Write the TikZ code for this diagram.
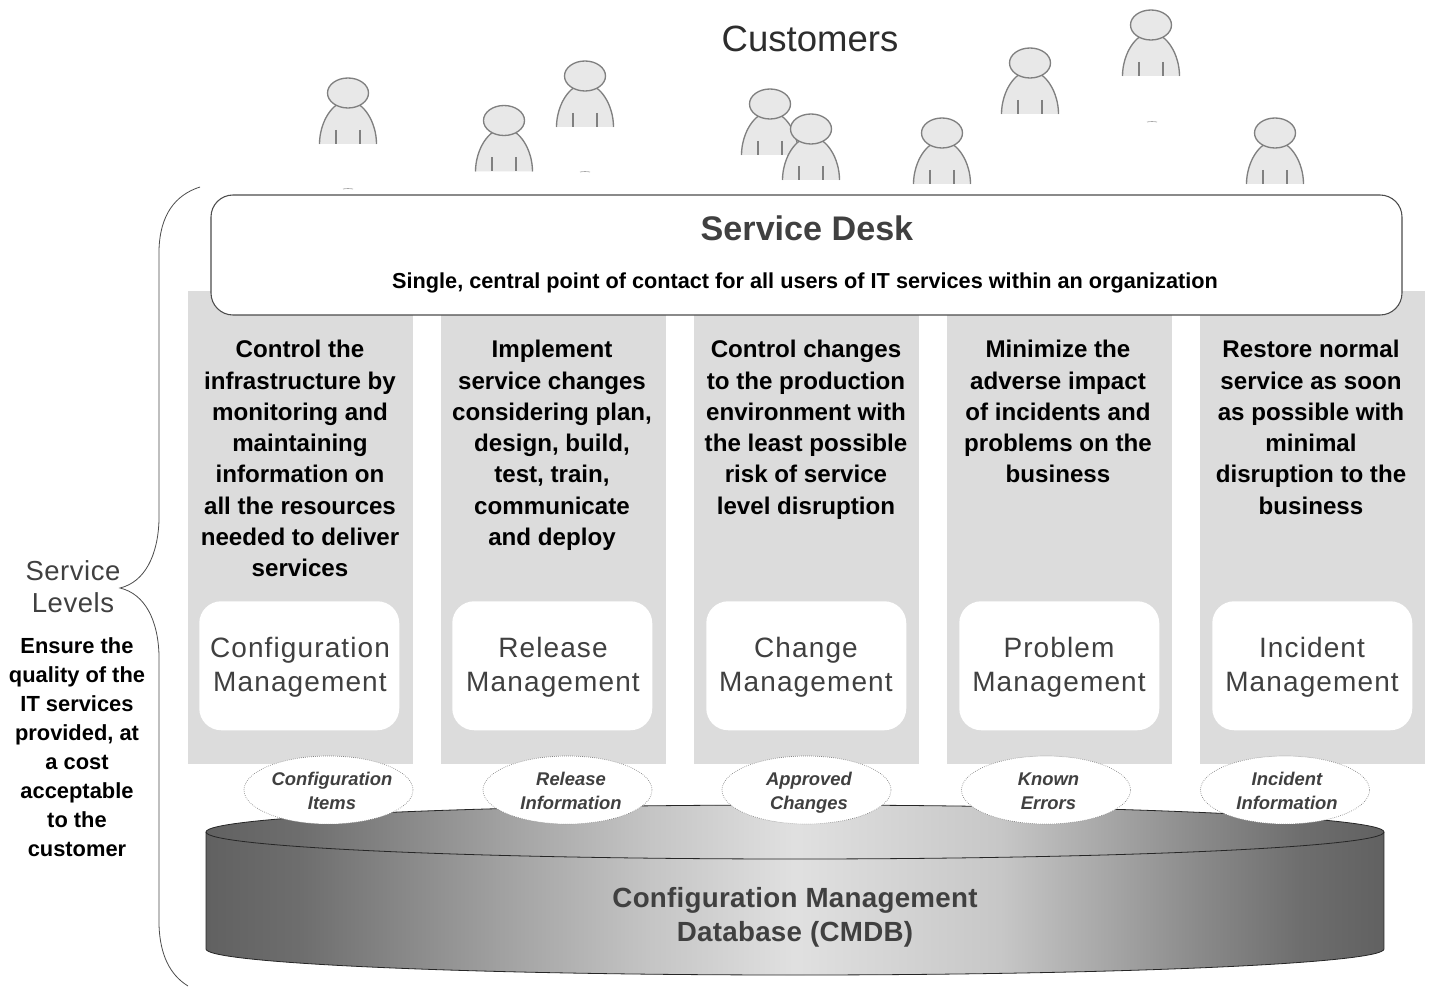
\documentclass[tikz,border=0pt]{standalone}
\usepackage{fontspec}
\setmainfont{Liberation Sans}
\usetikzlibrary{shapes.geometric}
\definecolor{txtdark}{HTML}{404040}
\definecolor{persfill}{HTML}{E8E8E8}
\definecolor{persline}{HTML}{808080}
\definecolor{colfill}{HTML}{DCDCDC}
\pgfdeclarehorizontalshading{cylgrad}{100bp}{gray(0bp)=(0.38); gray(25bp)=(0.38); gray(29bp)=(0.43); gray(33.25bp)=(0.53); gray(37.5bp)=(0.63); gray(43.8bp)=(0.77); gray(50bp)=(0.88); gray(58.7bp)=(0.78); gray(63bp)=(0.66); gray(67.2bp)=(0.54); gray(71.5bp)=(0.43); gray(75bp)=(0.38); gray(100bp)=(0.38)}
\newcommand\person[2]{%
  \begin{scope}[shift={(#1,#2)}]
    \fill[persfill] (-28.5,51) .. controls (-28.5,30) and (-16,8) .. (0,8) .. controls (16,8) and (28.5,30) .. (28.5,51) -- cycle;
    \draw[persstroke] (-28.5,51) .. controls (-28.5,30) and (-16,8) .. (0,8) .. controls (16,8) and (28.5,30) .. (28.5,51);
    \draw[persstroke] (-12,37) -- (-12,51) (12,37) -- (12,51);
    \draw[persstroke,fill=persfill] (0,0) ellipse [x radius=20.5,y radius=15];
  \end{scope}}
\tikzset{
  persstroke/.style={draw=persline,line width=1pt},
  remnant/.style={draw=persline!70,line width=0.5pt},
  colbox/.style={fill=colfill,draw=none,minimum width=168.75pt,minimum height=354.75pt,anchor=north west,inner sep=0pt},
  modbox/.style={fill=white,draw=none,rounded corners=16.5pt,minimum width=150pt,minimum height=96.75pt,anchor=north west,inner sep=0pt},
  modtext/.style={align=center,text=txtdark,inner sep=0pt,anchor=center,font=\fontsize{21pt}{25.5pt}\selectfont\addfontfeature{LetterSpace=4}},
  bodytext/.style={align=center,text=black,inner sep=0pt,anchor=north,font=\fontsize{18.1pt}{23.45pt}\selectfont\bfseries},
  flowoval/.style={ellipse,draw=persline,densely dotted,line width=0.5pt,fill=white,minimum width=126.75pt,minimum height=51pt,inner sep=0pt},
  ovaltext/.style={inner sep=0pt,align=center,text=txtdark,font=\fontsize{13.8pt}{18pt}\selectfont\bfseries\itshape},
  cylline/.style={draw=black!85,line width=0.6pt}
}
\begin{document}
\begin{tikzpicture}[x=0.75pt,y=-0.75pt]
\useasboundingbox (0,0) rectangle (1429,987);
\fill[white] (0,0) rectangle (1429,987);
\node[inner sep=0pt,font=\fontsize{27.4pt}{32pt}\selectfont,text=txtdark!70!black] (cust) at (810,39) {Customers};
% people
\person{348}{93}
\person{504}{120.5}
\person{585}{76}
\person{770}{104}
\person{811}{129}
\person{942}{133}
\person{1030}{63}
\person{1151}{25}
\person{1275}{133}
% small remnants below the figures
\draw[remnant] (343,189) .. controls (346,188.4) and (350,188.4) .. (353,189);
\draw[remnant] (580,172) .. controls (583,171.4) and (587,171.4) .. (590,172);
\draw[remnant] (1147,122) .. controls (1150,121.4) and (1154,121.4) .. (1157,122);
% columns
\foreach \n/\x/\mx in {a/188/199,b/441/452,c/694/706,d/947/959,e/1200/1212}{
  \node[colbox] (col\n) at (\x,291) {};
  \node[modbox] (mod\n) at (\mx,601) {};
}
% service desk
\node[draw=black!70,line width=0.8pt,fill=white,rounded corners=16.5pt,minimum width=893.25pt,minimum height=90pt,inner sep=0pt] (desk) at (806.5,255) {};
\node[inner sep=0pt,text=txtdark,font=\fontsize{25.6pt}{30pt}\selectfont\bfseries] (desktitle) at (807,228) {Service Desk};
\node[inner sep=0pt,text=black,font=\fontsize{16.27pt}{19pt}\selectfont\bfseries] (desksub) at (805,282.5) {Single, central point of contact for all users of IT services within an organization};
% column text
\node[bodytext] (ta) at (300,340) {Control the\\infrastructure by\\monitoring and\\maintaining\\information on\\all the resources\\needed to deliver\\services};
\node[bodytext] (tb) at (552,340) {Implement\\service changes\\considering plan,\\design, build,\\test, train,\\communicate\\and deploy};
\node[bodytext] (tc) at (806,340) {Control changes\\to the production\\environment with\\the least possible\\risk of service\\level disruption};
\node[bodytext] (td) at (1058,340) {Minimize the\\adverse impact\\of incidents and\\problems on the\\business};
\node[bodytext] (te) at (1311,340) {Restore normal\\service as soon\\as possible with\\minimal\\disruption to the\\business};
% module labels
\node[modtext] (la) at (300,667) {Configuration\\Management};
\node[modtext] (lb) at (553,667) {Release\\Management};
\node[modtext] (lc) at (806,667) {Change\\Management};
\node[modtext] (ld) at (1059,667) {Problem\\Management};
\node[modtext] (le) at (1312,667) {Incident\\Management};
% cylinder
\path[shading=cylgrad] (206,832) -- (206,949) arc[start angle=180,end angle=0,x radius=589,y radius=26] -- (1384,832) arc[start angle=0,end angle=-180,x radius=589,y radius=27] -- cycle;
\draw[cylline] (206,832) -- (206,949) arc[start angle=180,end angle=0,x radius=589,y radius=26] -- (1384,832);
\draw[cylline] (795,832) ellipse [x radius=589,y radius=27];
\node[inner sep=0pt,align=center,text=txtdark,font=\fontsize{20.8pt}{25.6pt}\selectfont\bfseries\addfontfeature{LetterSpace=1}] (cmdb) at (795,917) {Configuration Management\\Database (CMDB)};
% flow ovals
\node[flowoval] (oa) at (328.5,790) {};
\node[flowoval] (ob) at (567.5,790) {};
\node[flowoval] (oc) at (806.5,790) {};
\node[flowoval] (od) at (1046,790) {};
\node[flowoval] (oe) at (1285,790) {};
\node[ovaltext] (ota) at (332,791.5) {\rule{0pt}{13pt}Configuration\\Items\rule[-4pt]{0pt}{4pt}};
\node[ovaltext] (otb) at (571,791.5) {\rule{0pt}{13pt}Release\\Information\rule[-4pt]{0pt}{4pt}};
\node[ovaltext] (otc) at (809,791.5) {\rule{0pt}{13pt}Approved\\Changes\rule[-4pt]{0pt}{4pt}};
\node[ovaltext] (otd) at (1048.5,791.5) {\rule{0pt}{13pt}Known\\Errors\rule[-4pt]{0pt}{4pt}};
\node[ovaltext] (ote) at (1287,791.5) {\rule{0pt}{13pt}Incident\\Information\rule[-4pt]{0pt}{4pt}};
% brace
\draw[black!70,line width=0.6pt] (200,187) .. controls (175,195) and (160,215) .. (159,250) -- (159,520) .. controls (158,555) and (145,582) .. (120,588) .. controls (145,594) and (158,620) .. (159,655) -- (159,925) .. controls (160,955) and (170,975) .. (188,986);
\node[inner sep=0pt,align=center,text=txtdark,font=\fontsize{20.6pt}{24pt}\selectfont\addfontfeature{LetterSpace=2}] (sl) at (73,587) {Service\\Levels};
\node[inner sep=0pt,align=center,text=black,anchor=north,font=\fontsize{16.4pt}{21.7pt}\selectfont\bfseries] (slt) at (77,637.5) {Ensure the\\quality of the\\IT services\\provided, at\\a cost\\acceptable\\to the\\customer};
\end{tikzpicture}
\end{document}
